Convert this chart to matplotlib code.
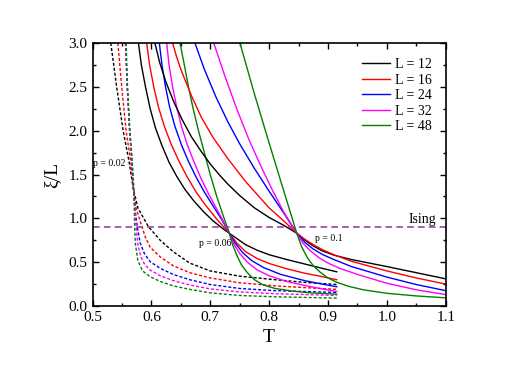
import matplotlib
matplotlib.use("Agg")
import matplotlib.pyplot as plt
from matplotlib.ticker import MultipleLocator

plt.rcParams['font.family'] = ['Liberation Serif', 'DejaVu Serif']

# system sizes and colours
sizes = [12, 16, 24, 32, 48]
colors = ['black', 'red', 'blue', 'magenta', 'green']

# p = 0.02 (dashed), one list per L
T_p002 = [
    [0.531, 0.541, 0.552, 0.562, 0.569, 0.577, 0.595, 0.615, 0.637, 0.665, 0.70, 0.75, 0.81, 0.86, 0.915],
    [0.543, 0.5496, 0.557, 0.565, 0.569, 0.574, 0.584, 0.59, 0.598, 0.615, 0.637, 0.665, 0.70, 0.75, 0.81, 0.86, 0.915],
    [0.556, 0.559, 0.563, 0.567, 0.5695, 0.572, 0.576, 0.581, 0.588, 0.598, 0.615, 0.637, 0.665, 0.70, 0.75, 0.81, 0.915],
    [0.556, 0.559, 0.563, 0.567, 0.570, 0.572, 0.574, 0.577, 0.582, 0.589, 0.598, 0.615, 0.637, 0.665, 0.70, 0.75, 0.81, 0.915],
    [0.557, 0.5595, 0.5635, 0.5675, 0.570, 0.571, 0.5715, 0.573, 0.577, 0.585, 0.598, 0.615, 0.637, 0.665, 0.70, 0.75, 0.81, 0.915],
]
Y_p002 = [
    [3.0, 2.5, 2.0, 1.65, 1.35, 1.12, 0.905, 0.75, 0.62, 0.49, 0.40, 0.34, 0.30, 0.27, 0.245],
    [3.0, 2.5, 2.0, 1.65, 1.35, 1.12, 0.905, 0.78, 0.67, 0.56, 0.46, 0.38, 0.32, 0.265, 0.23, 0.21, 0.19],
    [3.0, 2.5, 2.0, 1.65, 1.35, 1.12, 0.905, 0.72, 0.60, 0.505, 0.43, 0.36, 0.30, 0.245, 0.20, 0.175, 0.155],
    [3.0, 2.5, 2.0, 1.65, 1.35, 1.12, 0.905, 0.70, 0.56, 0.47, 0.41, 0.345, 0.29, 0.24, 0.195, 0.16, 0.14, 0.12],
    [3.0, 2.5, 2.0, 1.65, 1.35, 1.12, 0.905, 0.70, 0.52, 0.40, 0.334, 0.28, 0.23, 0.19, 0.15, 0.12, 0.105, 0.09],
]

# p = 0.06 (solid)
T_p006 = [
    [0.578, 0.583, 0.590, 0.598, 0.607, 0.618, 0.630, 0.643, 0.657, 0.672, 0.688, 0.705, 0.72, 0.7324,
     0.745, 0.76, 0.78, 0.80, 0.83, 0.86, 0.89, 0.915],
    [0.592, 0.597, 0.604, 0.612, 0.622, 0.634, 0.647, 0.661, 0.676, 0.692, 0.71, 0.7324,
     0.745, 0.76, 0.78, 0.80, 0.83, 0.86, 0.89, 0.915],
    [0.6135, 0.618, 0.624, 0.631, 0.640, 0.651, 0.663, 0.676, 0.69, 0.705, 0.72, 0.7324,
     0.742, 0.755, 0.77, 0.79, 0.82, 0.86, 0.89, 0.915],
    [0.626, 0.630, 0.636, 0.643, 0.651, 0.661, 0.672, 0.684, 0.697, 0.71, 0.722, 0.7324,
     0.74, 0.75, 0.763, 0.78, 0.80, 0.83, 0.86, 0.89, 0.915],
    [0.6486, 0.656, 0.663, 0.671, 0.68, 0.69, 0.70, 0.711, 0.722, 0.7324,
     0.738, 0.745, 0.753, 0.763, 0.775, 0.79, 0.81, 0.84, 0.87, 0.915],
]
Y_p006 = [
    [3.0, 2.75, 2.5, 2.25, 2.03, 1.83, 1.64, 1.48, 1.33, 1.2, 1.08, 0.97, 0.89, 0.83,
     0.77, 0.70, 0.635, 0.585, 0.53, 0.48, 0.43, 0.39],
    [3.0, 2.75, 2.5, 2.27, 2.05, 1.84, 1.65, 1.47, 1.3, 1.15, 1.0, 0.83,
     0.72, 0.62, 0.54, 0.485, 0.425, 0.375, 0.335, 0.30],
    [3.0, 2.75, 2.5, 2.27, 2.05, 1.84, 1.65, 1.47, 1.3, 1.14, 0.98, 0.83,
     0.72, 0.61, 0.52, 0.44, 0.36, 0.29, 0.25, 0.22],
    [3.0, 2.75, 2.5, 2.27, 2.05, 1.84, 1.65, 1.46, 1.28, 1.12, 0.97, 0.83,
     0.71, 0.60, 0.50, 0.41, 0.345, 0.28, 0.235, 0.195, 0.165],
    [3.0, 2.75, 2.5, 2.25, 2.0, 1.75, 1.5, 1.25, 1.03, 0.83,
     0.70, 0.58, 0.47, 0.38, 0.30, 0.24, 0.20, 0.17, 0.15, 0.135],
]

# p = 0.1 (solid)
T_p01 = [
    [0.606, 0.614, 0.625, 0.638, 0.652, 0.668, 0.685, 0.70, 0.715, 0.73, 0.75, 0.775, 0.80, 0.825, 0.847,
     0.86, 0.875, 0.89, 0.91, 0.94, 0.97, 1.0, 1.05, 1.1],
    [0.636, 0.643, 0.65, 0.668, 0.685, 0.705, 0.73, 0.76, 0.78, 0.80, 0.825, 0.847,
     0.86, 0.875, 0.89, 0.91, 0.94, 0.97, 1.0, 1.05, 1.1],
    [0.674, 0.69, 0.71, 0.73, 0.75, 0.775, 0.80, 0.825, 0.847,
     0.86, 0.875, 0.89, 0.91, 0.94, 0.97, 1.0, 1.05, 1.1],
    [0.706, 0.725, 0.745, 0.765, 0.785, 0.805, 0.825, 0.847,
     0.857, 0.87, 0.885, 0.90, 0.92, 0.95, 0.98, 1.0, 1.05, 1.1],
    [0.7505, 0.775, 0.80, 0.825, 0.847,
     0.855, 0.865, 0.875, 0.886, 0.90, 0.915, 0.935, 0.96, 1.0, 1.05, 1.1],
]
Y_p01 = [
    [3.0, 2.78, 2.55, 2.33, 2.13, 1.93, 1.76, 1.62, 1.5, 1.39, 1.26, 1.12, 1.01, 0.92, 0.83,
     0.755, 0.685, 0.63, 0.58, 0.53, 0.49, 0.45, 0.38, 0.31],
    [3.0, 2.84, 2.7, 2.4, 2.15, 1.92, 1.68, 1.42, 1.27, 1.12, 0.97, 0.83,
     0.765, 0.70, 0.645, 0.585, 0.51, 0.455, 0.40, 0.32, 0.25],
    [3.0, 2.70, 2.38, 2.10, 1.85, 1.57, 1.31, 1.06, 0.83,
     0.73, 0.65, 0.59, 0.53, 0.45, 0.39, 0.33, 0.245, 0.175],
    [3.0, 2.62, 2.25, 1.91, 1.61, 1.33, 1.07, 0.83,
     0.72, 0.63, 0.55, 0.49, 0.43, 0.36, 0.30, 0.26, 0.185, 0.13],
    [3.0, 2.42, 1.86, 1.31, 0.83,
     0.68, 0.55, 0.46, 0.39, 0.32, 0.27, 0.225, 0.185, 0.145, 0.115, 0.093],
]

ising = 0.905

fig = plt.figure(figsize=(5.18, 3.67), dpi=100)
ax = fig.add_axes([0.1786, 0.1662, 0.6818, 0.7166])

for i, c in enumerate(colors):
    ax.plot(T_p002[i], Y_p002[i], color=c, lw=1.0, linestyle=(0, (2.2, 1.4)))
for i, c in enumerate(colors):
    ax.plot(T_p006[i], Y_p006[i], color=c, lw=1.0)
for i, c in enumerate(colors):
    ax.plot(T_p01[i], Y_p01[i], color=c, lw=1.0, label='L = %d' % sizes[i])

ax.axhline(ising, color='#a040a0', lw=1.2, linestyle=(0, (4, 2.5)))

ax.text(0.501, 1.60, 'p = 0.02', fontsize=7)
ax.text(0.681, 0.68, 'p = 0.06', fontsize=7)
ax.text(0.878, 0.74, 'p = 0.1', fontsize=7)
ax.text(1.083, 0.95, 'Ising', fontsize=10, ha='right')

ax.set_xlim(0.5, 1.1)
ax.set_ylim(0.0, 3.0)
ax.xaxis.set_major_locator(MultipleLocator(0.1))
ax.xaxis.set_minor_locator(MultipleLocator(0.05))
ax.yaxis.set_major_locator(MultipleLocator(0.5))
ax.yaxis.set_minor_locator(MultipleLocator(0.25))
ax.tick_params(which='both', direction='in', top=True, right=True, labelsize=11)
ax.tick_params(which='major', length=4.5, width=1.0)
ax.tick_params(which='minor', length=2.5, width=1.0)
for s in ax.spines.values():
    s.set_linewidth(1.2)

ax.set_xlabel('T', fontsize=14, labelpad=4)
ax.set_ylabel('ξ/L', fontsize=14, labelpad=6)

ax.legend(loc='upper right', frameon=False, fontsize=10, handlelength=2.0,
          handletextpad=0.36, labelspacing=0.18, borderaxespad=0,
          bbox_to_anchor=(0.977, 0.964))

fig.savefig('out.png', dpi=100)
